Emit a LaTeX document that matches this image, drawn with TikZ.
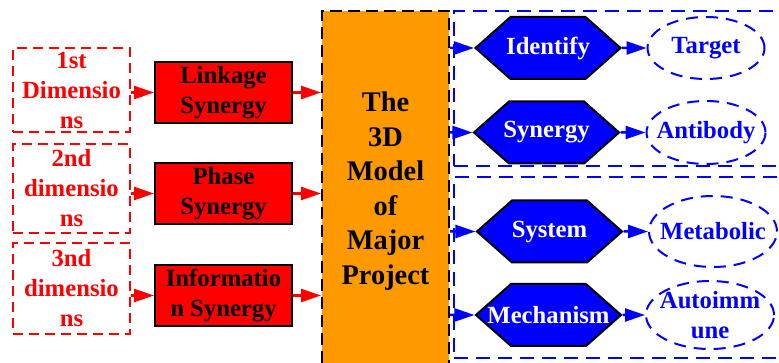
\documentclass[tikz,border=0pt]{standalone}
\usepackage{fontspec}
\setmainfont{Liberation Serif}
\usetikzlibrary{shapes,arrows.meta,positioning}
\definecolor{projorange}{RGB}{255,153,0}
\newcommand{\lblfont}{\fontsize{24.7pt}{30pt}\selectfont\bfseries}
\newcommand{\bigfont}{\fontsize{28.4pt}{34.5pt}\selectfont\bfseries}
\newcommand{\hexlbl}[1]{\makebox[75pt]{#1}}
\tikzset{
dimbox/.style = {draw=red, line width=2pt, dash pattern=on 10pt off 6pt, rectangle, text=red, font=\lblfont, align=center, inner sep=0pt, minimum width=117pt},
synbox/.style = {draw=black, line width=2pt, fill=red, rectangle, font=\lblfont, align=center, inner sep=0pt, minimum width=137pt, minimum height=61pt},
modelbox/.style = {draw=black, line width=2pt, dash pattern=on 12pt off 6pt, fill=projorange, rectangle, font=\bigfont, align=center, inner sep=0pt, minimum width=127pt, minimum height=360pt},
grpbox/.style = {draw=blue, line width=2pt, dash pattern=on 14pt off 8pt, rectangle, inner sep=0pt, minimum width=346pt},
hexbox/.style = {draw=black, line width=2pt, fill=blue, text=white, shape=signal, signal to=east and west, signal pointer angle=83, font=\lblfont, inner sep=0pt, minimum width=145pt, minimum height=62pt},
ellbox/.style = {draw=blue, line width=2pt, dash pattern=on 12pt off 8pt, ellipse, text=blue, font=\lblfont, align=center, inner xsep=-10pt, inner ysep=-6pt},
redline/.style = {->, draw=red, fill=red, line width=2.5pt},
blueline/.style = {->, draw=blue, fill=blue, line width=2.5pt}
}
\begin{document}
\begin{tikzpicture}[x=1pt, y=1pt, >={Triangle[length=20pt,width=13pt]}, node distance=158pt]
  \clip (0,0) rectangle (779,363);
  % left: dimensions and synergies
  \node [dimbox, minimum height=84pt]           (dima)  at (71.5,273)   {1st\\Dimensio\\ns};
  \node [dimbox, minimum height=89pt]           (dimb)  at (71.5,174.5) {2nd\\dimensio\\ns};
  \node [dimbox, minimum height=91pt]           (dimc)  at (71.5,74.5)  {3nd\\dimensio\\ns};
  \node [synbox]                                (syna)  at (223.5,270.5) {Linkage\\Synergy};
  \node [synbox]                                (synb)  at (223.5,169.5) {Phase\\Synergy};
  \node [synbox]                                (sync)  at (223.5,67.5)  {Informatio\\n Synergy};
  \node [modelbox]                              (model) at (385.5,172)   {The\\3D\\Model\\of\\Major\\Project};

  % right: two groups
  \node [grpbox, minimum height=155pt]          (grpa)  at (627,274.5) {};
  \node [grpbox, minimum height=181pt]          (grpb)  at (627,95.5)  {};
  \node [hexbox]                                (ident) at (548,315)   {\hexlbl{Identify}};
  \node [hexbox]                                (syner) at (546.5,230.5) {\hexlbl{Synergy}};
  \node [hexbox]                                (syst)  at (549.5,131.5) {\hexlbl{System}};
  \node [hexbox]                                (mech)  at (548.5,48)  {\hexlbl{Mechanism}};
  \node [ellbox, right of=ident, minimum width=117pt, minimum height=62pt]                       (target) {Target};
  \node [ellbox, right of=syner, node distance=159.5pt, minimum width=119pt, minimum height=63pt] (antib)  {Antibody};
  \node [ellbox, right of=syst, node distance=163.5pt, minimum width=128pt, minimum height=71pt] (metab)  {Metabolic};
  \node [ellbox, right of=mech, node distance=161.5pt, minimum width=128pt, minimum height=68pt] (autoi)  {Autoimm\\une};

  \draw [redline] (dima.east |- syna) -- (syna);
  \draw [redline] (dimb.east |- synb) -- (synb);
  \draw [redline] (dimc.east |- sync) -- (sync);
  \draw [redline] (syna) -- (syna -| model.west);
  \draw [redline] (synb) -- (synb -| model.west);
  \draw [redline] (sync) -- (sync -| model.west);

  \draw [blueline] (model.east |- ident) -- (ident);
  \draw [blueline] (model.east |- syner) -- (syner);
  \draw [blueline] (model.east |- syst) -- (syst);
  \draw [blueline] (model.east |- mech) -- (mech);
  \draw [blueline] (ident) -- (ident -| target.west);
  \draw [blueline] (syner) -- (syner -| antib.west);
  \draw [blueline] (syst) -- (syst -| metab.west);
  \draw [blueline] (mech) -- (mech -| autoi.west);
\end{tikzpicture}
\end{document}
